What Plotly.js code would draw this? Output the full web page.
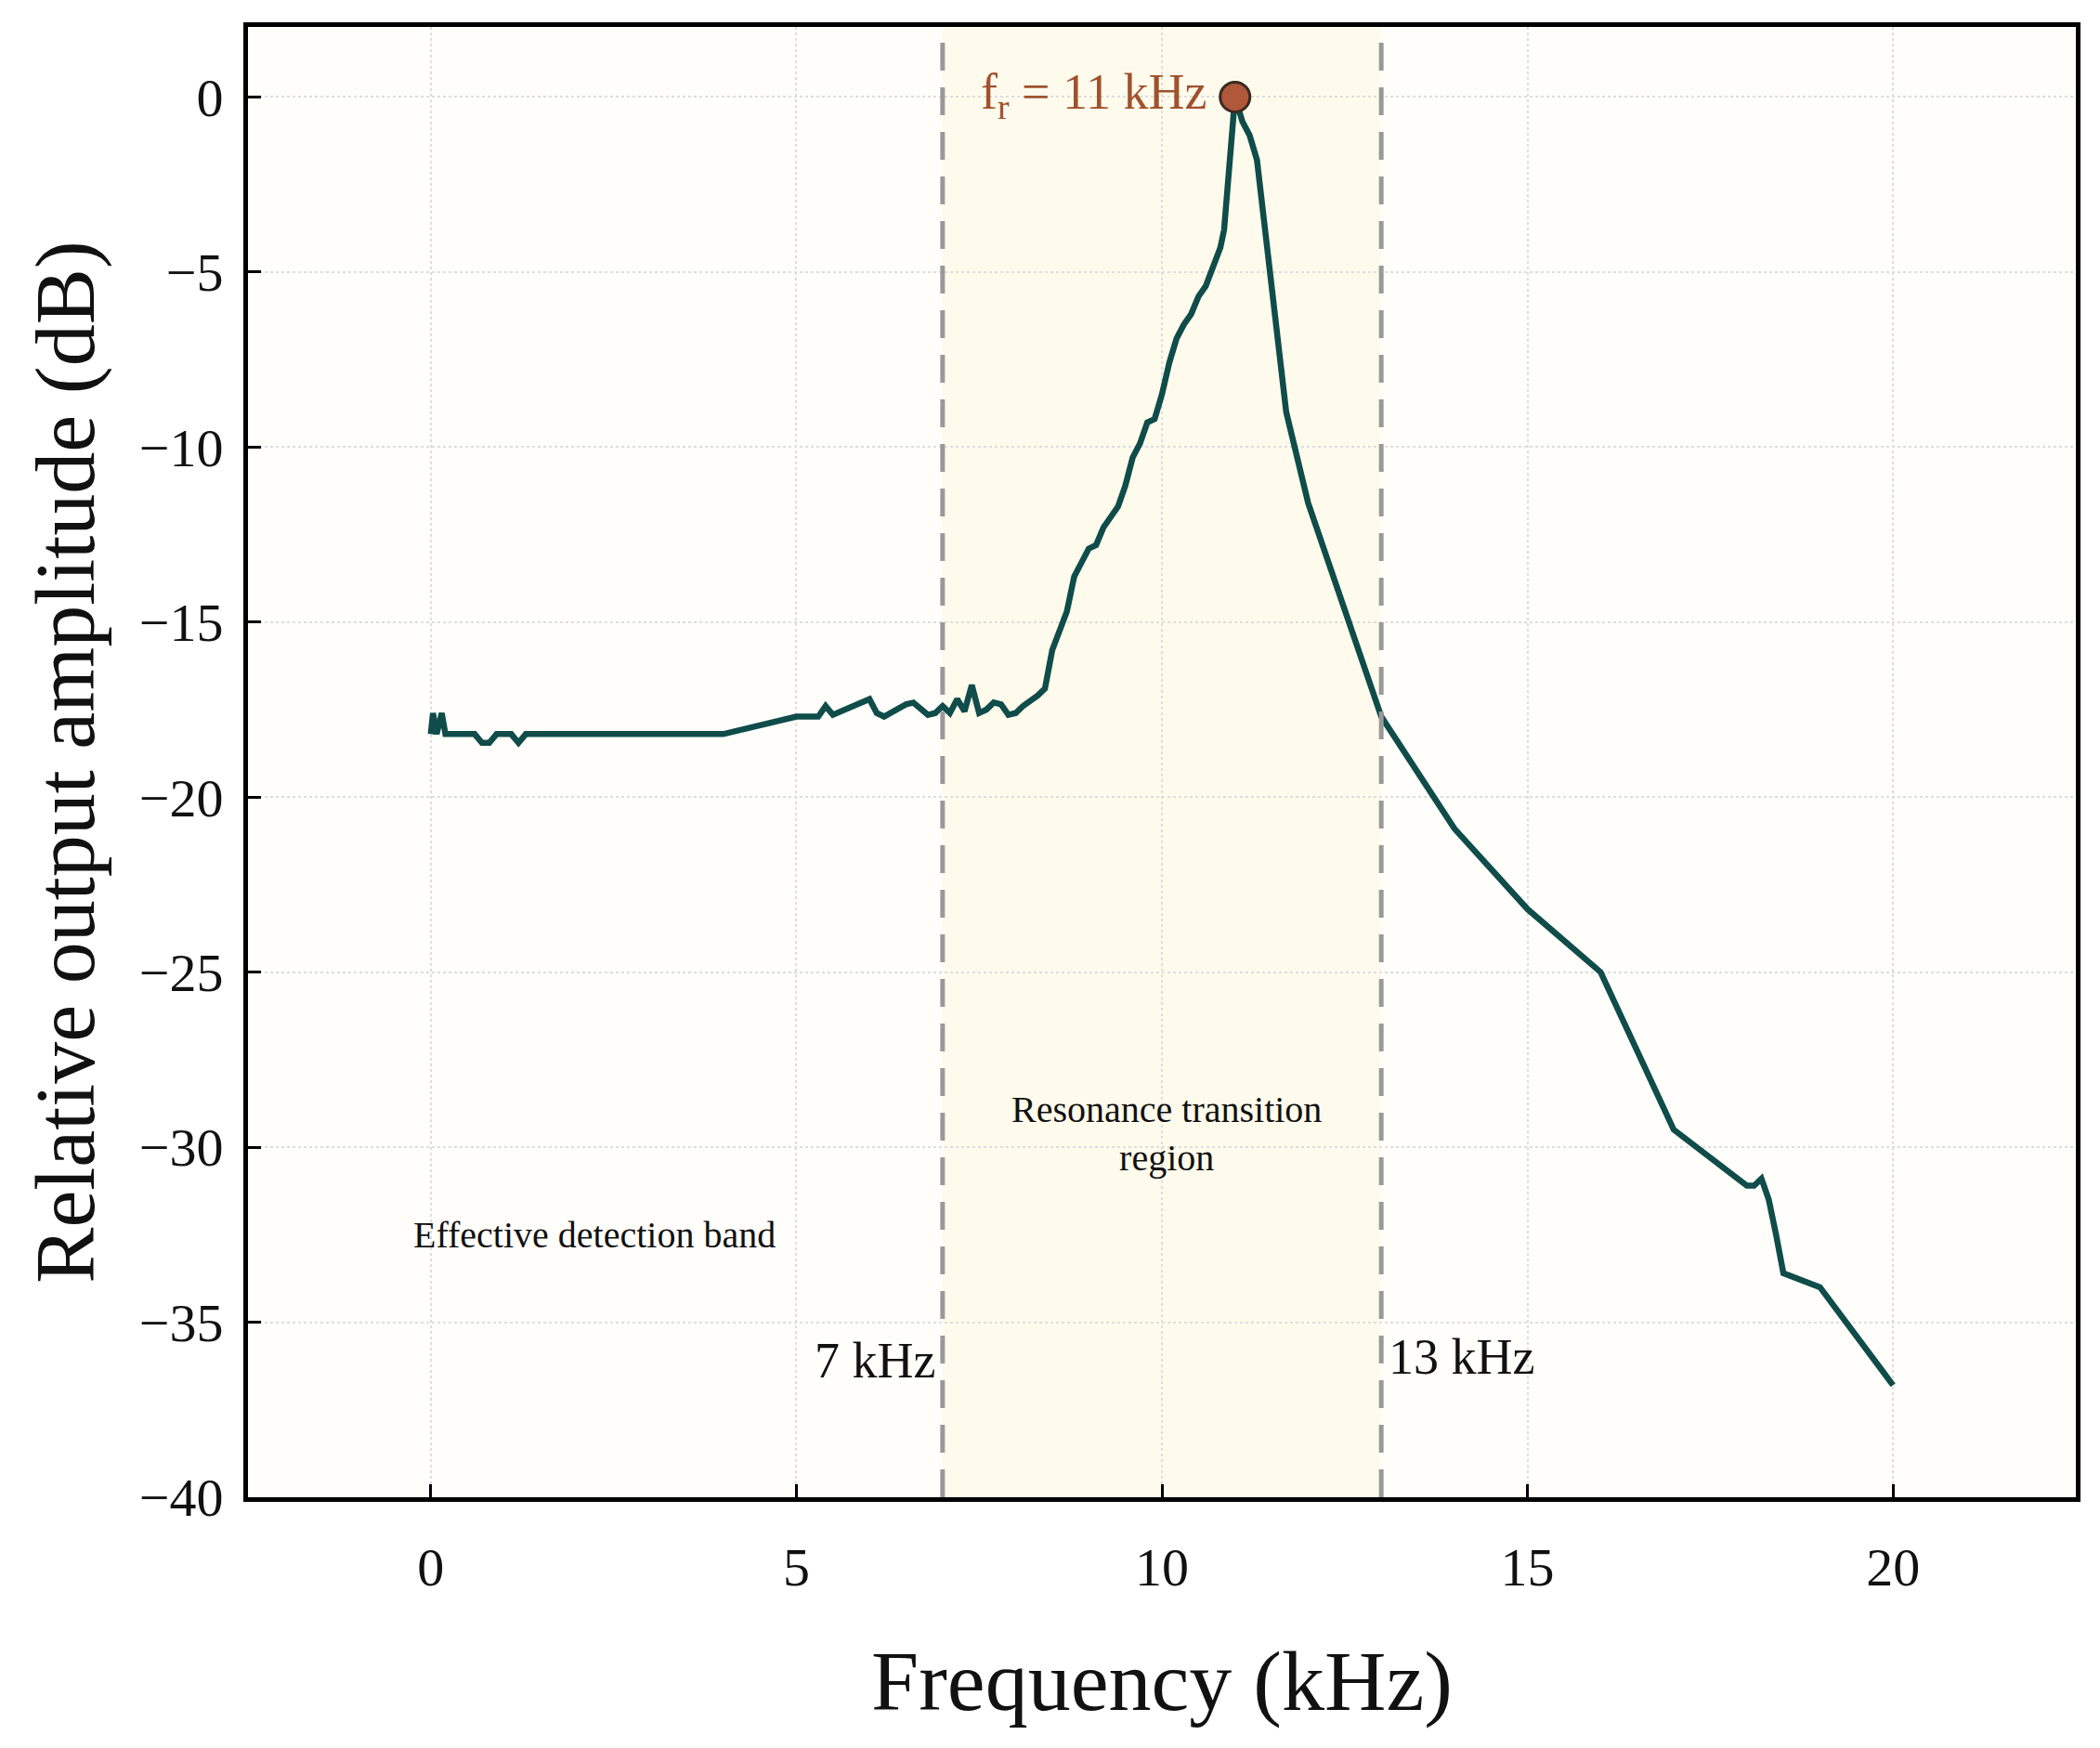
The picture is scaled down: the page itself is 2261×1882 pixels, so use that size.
<!DOCTYPE html>
<html><head><meta charset="utf-8">
<script src="https://cdn.plot.ly/plotly-3.0.1.min.js"></script>
<style>html,body{margin:0;padding:0;background:#fff}#chart{width:2261px;height:1882px}</style>
</head><body><div id="chart"></div>
<script>
"use strict";
const freq = [0, 0.03, 0.08, 0.15, 0.2, 0.3, 0.6, 0.7, 0.8, 0.9, 1.1, 1.2, 1.3, 4.0, 5.0, 5.3, 5.4, 5.5, 6.0, 6.1, 6.2, 6.5, 6.6, 6.8, 6.9, 7.0, 7.1, 7.2, 7.3, 7.4, 7.5, 7.6, 7.7, 7.8, 7.9, 8.0, 8.1, 8.3, 8.4, 8.5, 8.7, 8.8, 9.0, 9.1, 9.2, 9.4, 9.5, 9.6, 9.7, 9.8, 9.9, 10.0, 10.1, 10.2, 10.3, 10.4, 10.5, 10.6, 10.7, 10.8, 10.85, 10.9, 11.0, 11.1, 11.2, 11.3, 11.5, 11.7, 12.0, 12.5, 13.0, 14.0, 15.0, 16.0, 17.0, 18.0, 18.1, 18.2, 18.3, 18.4, 18.5, 19.0, 20.0];
const amp = [-18.2, -17.6, -18.2, -17.6, -18.2, -18.2, -18.2, -18.45, -18.45, -18.2, -18.2, -18.45, -18.2, -18.2, -17.7, -17.7, -17.4, -17.65, -17.2, -17.6, -17.7, -17.35, -17.3, -17.65, -17.6, -17.4, -17.6, -17.2, -17.55, -16.8, -17.6, -17.5, -17.3, -17.35, -17.65, -17.6, -17.4, -17.1, -16.9, -15.8, -14.7, -13.7, -12.9, -12.8, -12.3, -11.7, -11.1, -10.3, -9.9, -9.3, -9.2, -8.5, -7.6, -6.9, -6.5, -6.2, -5.7, -5.4, -4.9, -4.3, -3.8, -2.5, 0, -0.7, -1.1, -1.8, -5.5, -9.0, -11.6, -14.6, -17.7, -20.9, -23.2, -25.0, -29.5, -31.1, -31.1, -30.9, -31.5, -32.5, -33.6, -34.0, -36.8];
const bandEdges = [7, 13];
const peak = { f: 11, a: 0 };
const xTicks = [0, 5, 10, 15, 20];
const yTicks = [0, -5, -10, -15, -20, -25, -30, -35, -40];

const FONT = "Liberation Serif, Times New Roman, serif";
const tickText = yTicks.map((v) => (v < 0 ? "\u2212" + Math.abs(v) : String(v)));

const traces = [
  { x: freq, y: amp, type: "scatter", mode: "lines", line: { color: "#0f4c4a", width: 6.5 }, showlegend: false },
  { x: [peak.f], y: [peak.a], type: "scatter", mode: "markers", showlegend: false,
    marker: { size: 32, color: "#b0583a", line: { color: "#3a2a22", width: 3 } } },
];

const shapes = [
  { type: "rect", xref: "x", yref: "paper", x0: bandEdges[0], x1: bandEdges[1], y0: 0, y1: 1,
    fillcolor: "rgba(255,248,215,0.4)", line: { width: 0 }, layer: "below" },
];
bandEdges.forEach((b) => shapes.push({ type: "line", xref: "x", yref: "paper", x0: b, x1: b, y0: 0, y1: 1,
  line: { color: "#999999", width: 5, dash: "30px,18px" } }));

const annotations = [
  { x: 2.24, y: -32.5, text: "Effective detection band", showarrow: false, font: { family: FONT, size: 40, color: "#111" } },
  { x: 10.06, y: -29.6, text: "Resonance transition<br>region", showarrow: false, font: { family: FONT, size: 40, color: "#111" } },
  { x: 6.92, y: -36.1, xanchor: "right", text: "7 kHz", showarrow: false, font: { family: FONT, size: 54, color: "#111" } },
  { x: 13.08, y: -36.0, xanchor: "left", text: "13 kHz", showarrow: false, font: { family: FONT, size: 54, color: "#111" } },
  { x: 10.65, y: 0.05, xanchor: "right", text: "f<sub>r</sub> = 11 kHz", showarrow: false, font: { family: FONT, size: 54, color: "#a0522d" } },
];

const axisBase = {
  showline: true, linecolor: "#000", linewidth: 5, mirror: true,
  showgrid: true, gridcolor: "#dddddd", griddash: "dot", gridwidth: 2,
  zeroline: false, ticks: "inside", ticklen: 14, tickwidth: 3, tickcolor: "#000",
  tickfont: { family: FONT, size: 58, color: "#111" },
};

const layout = {
  width: 2261, height: 1882,
  paper_bgcolor: "#ffffff", plot_bgcolor: "#fffefa",
  margin: { l: 267, r: 26, t: 29, b: 270 },
  font: { family: FONT },
  shapes, annotations,
  xaxis: { ...axisBase, range: [-2.5, 22.5], tickvals: xTicks, ticklabelstandoff: 20,
    title: { text: "Frequency (kHz)", font: { family: FONT, size: 92, color: "#111" }, standoff: 60 } },
  yaxis: { ...axisBase, range: [-40, 2], tickvals: yTicks, ticktext: tickText, ticklabelstandoff: 10,
    title: { text: "Relative output amplitude (dB)", font: { family: FONT, size: 90, color: "#111" }, standoff: 20 } },
};

Plotly.newPlot("chart", traces, layout, { displayModeBar: false, staticPlot: true });
</script></body></html>
